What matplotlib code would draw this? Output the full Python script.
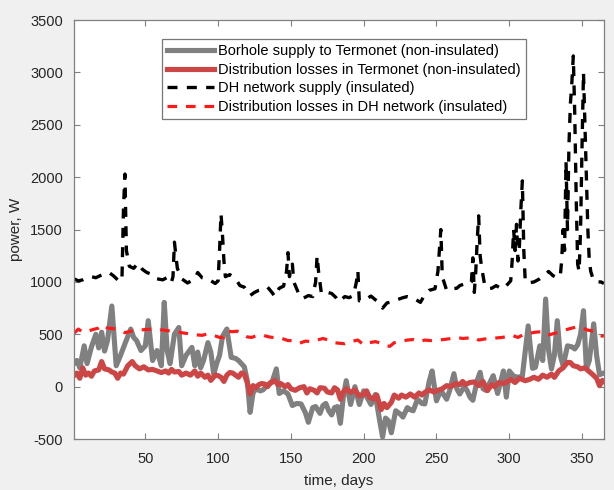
import matplotlib
matplotlib.use('Agg')
import matplotlib.pyplot as plt

params = {
    'font.family': ['Liberation Sans', 'DejaVu Sans'],
    'font.size': 10.5,
    'axes.labelsize': 11,
    'axes.unicode_minus': False,
    'xtick.direction': 'in',
    'ytick.direction': 'in',
}
plt.rcParams.update(params)

# Borehole supply to Termonet (non-insulated), W
days_borehole = [1, 3, 5, 8, 10, 13, 16, 18, 20, 22, 24, 27, 30, 33, 36, 40, 42, 44, 47, 50,
                 52, 55, 58, 61, 63, 65, 67, 70, 73, 75, 78, 82, 84, 86, 88, 90, 93, 95, 97, 99,
                 101, 103, 106, 109, 112, 114, 116, 118, 120, 122, 124, 126, 129, 131, 134, 137, 140, 142, 145, 148,
                 151, 154, 157, 160, 162, 165, 167, 170, 172, 174, 176, 178, 180, 182, 184, 186, 188, 191, 194, 197,
                 200, 203, 205, 208, 211, 213, 215, 217, 219, 222, 225, 227, 230, 232, 234, 237, 240, 242, 245, 247,
                 250, 253, 257, 259, 262, 264, 266, 269, 271, 273, 275, 278, 280, 282, 284, 286, 289, 292, 294, 296,
                 298, 300, 303, 306, 309, 313, 316, 318, 321, 323, 325, 327, 329, 331, 333, 335, 337, 340, 343, 345,
                 347, 349, 351, 353, 355, 358, 360, 362, 365]
borehole = [220, 250, 180, 390, 220, 380, 500, 370, 520, 340, 440, 770, 200, 300, 410, 550, 470, 440, 345, 390,
            630, 250, 345, 200, 805, 345, 220, 500, 565, 200, 300, 375, 200, 330, 180, 250, 420, 330, 120, 220,
            300, 480, 550, 280, 270, 250, 220, 190, 60, -245, -60, -20, -40, -30, 20, 40, 170, -65, -40, -70,
            -180, -160, -165, -250, -340, -200, -190, -255, -180, -160, -230, -270, -200, -190, -350, -100, 57, -170, 0, -170,
            -40, -120, -170, -75, -325, -480, -300, -325, -440, -230, -260, -290, -200, -220, -230, -120, -160, -165, 50, 150,
            -135, -35, -120, -40, 124, -20, -70, 0, -35, -100, -130, 60, 137, -20, -35, 20, 105, -65, 40, 150,
            -100, 150, 100, 90, 100, 580, 175, 185, 390, 250, 837, 350, 170, 300, 630, 300, 200, 390, 380, 360,
            400, 500, 725, 170, 250, 600, 300, 115, 130]

# Distribution losses in Termonet (non-insulated), W
days_termonet = [1, 3, 5, 7, 9, 11, 13, 15, 18, 20, 22, 25, 27, 29, 31, 33, 35, 38, 41, 43,
                 46, 49, 52, 55, 58, 61, 64, 66, 68, 70, 73, 75, 78, 81, 84, 86, 88, 91, 93, 95,
                 98, 100, 102, 104, 106, 108, 110, 112, 114, 116, 118, 120, 122, 124, 126, 128, 130, 132, 134, 136,
                 139, 141, 143, 146, 148, 150, 153, 156, 159, 161, 163, 166, 168, 170, 173, 175, 178, 180, 182, 184,
                 186, 188, 191, 194, 197, 200, 202, 204, 207, 209, 212, 214, 216, 219, 221, 224, 226, 229, 232, 235,
                 238, 240, 242, 245, 248, 251, 254, 257, 260, 263, 266, 268, 270, 273, 276, 279, 282, 285, 288, 290,
                 293, 296, 298, 301, 304, 307, 311, 314, 317, 320, 323, 326, 329, 331, 334, 337, 340, 342, 344, 347,
                 349, 352, 354, 357, 360, 362, 364, 365]
termonet_loss = [105, 130, 80, 180, 110, 130, 100, 150, 160, 240, 170, 160, 140, 130, 80, 130, 120, 200, 240, 200,
                 170, 190, 160, 165, 150, 135, 150, 130, 165, 140, 145, 110, 130, 110, 150, 100, 130, 90, 110, 60,
                 110, 105, 90, 50, 110, 135, 130, 110, 90, 130, 120, 40, -70, 10, -10, 20, 30, 25, 0, 40,
                 60, 20, 30, 0, 20, -20, -35, -10, 0, -60, -20, -35, -60, -10, -15, -50, -60, -10, -30, -120,
                 -50, -20, -55, -30, -90, -70, -40, -100, -118, -80, -220, -160, -200, -150, -80, -110, -80, -100, -70, -100,
                 -60, -80, -55, -30, -50, -35, -20, 10, 0, 30, 20, 50, 20, 40, 45, 10, 50, -38, 20, 0,
                 40, 30, 42, 70, 40, 80, 57, 70, 90, 70, 110, 90, 120, 89, 150, 180, 232, 230, 200, 190,
                 170, 180, 155, 120, 80, 10, 60, 50]

# DH network supply (insulated), W
days_dh = [1, 4, 7, 10, 13, 16, 19, 22, 25, 28, 31, 33, 34, 35, 36, 37, 39, 42, 45, 48,
           51, 55, 58, 62, 66, 68, 69, 70, 71, 72, 75, 79, 84, 86, 89, 93, 98, 100, 101, 102,
           103, 104, 105, 108, 112, 115, 118, 122, 125, 128, 131, 134, 137, 139, 142, 145, 147, 148, 149, 150,
           151, 152, 155, 158, 162, 165, 167, 168, 169, 171, 175, 178, 181, 183, 187, 190, 193, 195, 196, 197,
           201, 205, 208, 211, 213, 216, 220, 223, 227, 230, 233, 236, 239, 242, 245, 249, 251, 252, 253, 254,
           257, 261, 264, 266, 269, 272, 274, 275, 276, 277, 278, 279, 280, 281, 283, 285, 288, 291, 294, 296,
           299, 301, 302, 303, 304, 305, 306, 307, 308, 309, 310, 311, 313, 317, 321, 324, 327, 330, 333, 335,
           336, 337, 338, 339, 340, 341, 342, 343, 344, 345, 346, 347, 348, 349, 350, 351, 352, 353, 354, 355,
           356, 358, 361, 363, 365]
dh_supply = [1030, 1010, 1020, 1040, 1050, 1040, 1060, 1080, 1090, 1060, 1020, 1000, 1050, 1700, 2030, 1300, 1150, 1130, 1180, 1120,
             1090, 1070, 1030, 1020, 1050, 1000, 1050, 1380, 1250, 1130, 1030, 990, 1030, 1090, 1040, 1030, 985, 1010, 1300, 1650,
             1450, 1200, 1050, 1070, 1030, 965, 950, 870, 900, 920, 930, 950, 900, 860, 940, 960, 1100, 1280, 1050, 1120,
             1170, 1000, 900, 840, 870, 860, 1000, 1250, 1100, 885, 900, 890, 850, 810, 860, 850, 870, 1000, 1107, 820,
             830, 865, 830, 800, 750, 800, 810, 830, 850, 860, 850, 830, 805, 880, 920, 935, 1100, 1300, 1500, 1050,
             920, 935, 940, 965, 980, 970, 1000, 1230, 900, 1100, 1400, 1631, 1250, 1140, 980, 935, 940, 965, 940, 935,
             980, 1010, 1200, 1500, 1300, 1550, 1200, 1350, 1700, 1965, 1300, 1000, 990, 1000, 1030, 1060, 1100, 1060, 1040, 1050,
             1200, 1500, 1300, 2150, 1500, 2300, 2700, 2900, 3158, 2600, 1800, 1170, 1100, 1500, 2300, 3000, 2500, 2000, 1500, 1200,
             1100, 1010, 1000, 1000, 985]

# Distribution losses in DH network (insulated), W
days_dh_loss = [1, 4, 7, 10, 14, 18, 21, 24, 27, 30, 33, 36, 40, 45, 50, 55, 60, 65, 70, 75,
                80, 85, 89, 93, 97, 101, 104, 106, 110, 113, 117, 120, 123, 127, 131, 135, 140, 144, 148, 152,
                156, 160, 164, 168, 172, 176, 180, 183, 187, 191, 196, 200, 204, 208, 212, 216, 218, 221, 225, 230,
                234, 238, 242, 246, 250, 255, 260, 264, 268, 272, 276, 279, 283, 287, 291, 295, 299, 302, 306, 310,
                314, 318, 322, 326, 330, 334, 338, 342, 346, 350, 354, 358, 362, 365]
dh_loss = [510, 550, 520, 530, 545, 560, 590, 560, 555, 550, 535, 515, 530, 540, 545, 550, 545, 535, 530, 515,
           505, 495, 490, 505, 490, 470, 470, 530, 525, 530, 500, 475, 470, 490, 490, 475, 465, 460, 440, 440,
           415, 435, 430, 445, 460, 445, 420, 415, 410, 430, 445, 400, 420, 430, 415, 390, 385, 420, 430, 445,
           450, 430, 445, 440, 445, 450, 460, 470, 460, 465, 470, 445, 455, 460, 465, 470, 480, 490, 470, 500,
           510, 520, 525, 490, 505, 520, 540, 555, 570, 560, 540, 530, 490, 480]

labels = ['Borhole supply to Termonet (non-insulated)',
          'Distribution losses in Termonet (non-insulated)',
          'DH network supply (insulated)',
          'Distribution losses in DH network (insulated)']

fig = plt.figure(figsize=(6.14, 4.9), dpi=100, facecolor='#f0f0f0')
ax = fig.add_axes([0.1205, 0.104, 0.863, 0.855])

dash = (0, (3.0, 2.8))
ax.plot(days_borehole, borehole, color='#808080', lw=3.7, label=labels[0])
ax.plot(days_termonet, termonet_loss, color='#cc4646', lw=3.7, label=labels[1])
ax.plot(days_dh, dh_supply, color='black', lw=2.4, linestyle=dash, label=labels[2])
ax.plot(days_dh_loss, dh_loss, color='#ff1a1a', lw=2.3, linestyle=dash, label=labels[3])

ax.set_xlim(1, 365)
ax.set_ylim(-500, 3500)
ax.set_xticks(range(50, 351, 50))
ax.set_yticks(range(-500, 3501, 500))
ax.tick_params(top=True, right=True, length=4, width=0.8, color='#808080',
               labelcolor='#262626', labelsize=10.5)
ax.tick_params(axis='x', pad=9)
ax.tick_params(axis='y', pad=8)
for s in ax.spines.values():
    s.set_color('#808080')
    s.set_linewidth(0.9)

ax.set_xlabel('time, days', color='#262626', labelpad=6)
ax.set_ylabel('power, W', color='#262626', labelpad=5)

leg = ax.legend(loc='upper left', bbox_to_anchor=(0.166, 0.955), borderaxespad=0,
                fancybox=False, framealpha=1, edgecolor='#777777', fontsize=10.5,
                handlelength=3.2, handletextpad=0.3, labelspacing=0.32,
                borderpad=0.35)
leg.get_frame().set_linewidth(0.9)

plt.savefig('out.png', dpi=100, facecolor=fig.get_facecolor())
